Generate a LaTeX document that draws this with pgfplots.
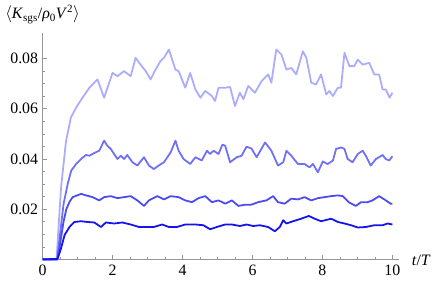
\documentclass[border=0pt]{standalone}
\usepackage{fontspec}
\setmainfont{Liberation Serif}
\usepackage{pgfplots}
\pgfplotsset{compat=1.18}

\definecolor{cA}{RGB}{20,20,235}
\definecolor{cB}{RGB}{75,75,240}
\definecolor{cC}{RGB}{112,112,246}
\definecolor{cD}{RGB}{172,172,255}
\definecolor{axgray}{RGB}{150,150,150}

\begin{document}
\fontsize{16}{19}\selectfont
\begin{tikzpicture}
\begin{axis}[
  scale only axis,
  width=359bp, height=228bp,
  xmin=0, xmax=10.2, ymin=0, ymax=0.0903,
  axis lines*=left,
  axis line style={axgray, line width=0.8pt},
  xtick={0,2,...,10}, ytick={0.02,0.04,0.06,0.08},
  minor x tick num=3, minor y tick num=3,
  extra y ticks={0.005,0.01,0.015}, extra y tick labels={},
  extra y tick style={major tick length=2.5bp, tick style={axgray}},
  tick align=inside,
  major tick length=4bp, minor tick length=2.5bp,
  tick style={axgray, line width=0.6pt},
  xticklabel={\pgfmathprintnumber[assume math mode=true]{\tick}},
  yticklabel={\pgfmathprintnumber[assume math mode=true, fixed, precision=2, fixed zerofill]{\tick}},
  yticklabel style={xshift=1bp},
  ticklabel style={font=\fontsize{16}{19}\selectfont},
  scaled y ticks=false,
  clip=false,
  every axis plot/.append style={line width=1.8pt, line join=round},
]
\addplot[cD] coordinates {
(0,0) (0.40,0) (0.53,0.0288) (0.67,0.047) (0.81,0.0565) (0.96,0.0605) (1.14,0.0644)
(1.34,0.0684) (1.57,0.0717) (1.76,0.0644) (2.00,0.0743) (2.14,0.0730)
(2.33,0.0750) (2.52,0.0730) (2.66,0.0803) (2.80,0.0776) (2.95,0.0750)
(3.09,0.0717) (3.23,0.0756) (3.37,0.0790) (3.47,0.0803) (3.61,0.0836)
(3.80,0.0756) (3.89,0.0750) (4.08,0.0684) (4.22,0.0743) (4.37,0.0677)
(4.51,0.0644) (4.65,0.0671) (4.84,0.0651) (4.93,0.0631) (5.03,0.0684)
(5.22,0.0684) (5.36,0.0687) (5.50,0.0611) (5.64,0.0664) (5.74,0.0638)
(5.88,0.0691) (6.07,0.0664) (6.26,0.0710) (6.45,0.0737) (6.54,0.0704)
(6.68,0.0836) (6.83,0.0816) (6.97,0.0756) (7.11,0.0763) (7.25,0.0737)
(7.44,0.0829) (7.54,0.0803) (7.68,0.0704) (7.82,0.0697) (7.96,0.0737)
(8.11,0.0657) (8.20,0.0671) (8.30,0.0651) (8.44,0.0684) (8.53,0.0684)
(8.63,0.0823) (8.77,0.0770) (8.91,0.0770) (9.01,0.0796) (9.15,0.0776)
(9.34,0.0783) (9.48,0.0737) (9.62,0.0737) (9.72,0.0677) (9.81,0.0677)
(9.92,0.0644) (10.0,0.0664)
};
\addplot[cC] coordinates {
(0,0) (0.42,0) (0.50,0.010) (0.60,0.022) (0.72,0.0301) (0.82,0.0354) (0.96,0.0380)
(1.10,0.0400) (1.24,0.0416) (1.34,0.0413) (1.48,0.0424) (1.62,0.0433)
(1.76,0.0473) (1.85,0.0453) (1.95,0.0440) (2.14,0.0400) (2.24,0.0413)
(2.33,0.0400) (2.42,0.0416) (2.57,0.0387) (2.71,0.0374) (2.90,0.0407)
(3.04,0.0374) (3.18,0.0360) (3.32,0.0374) (3.47,0.0387) (3.66,0.0426)
(3.80,0.0473) (3.89,0.0433) (4.03,0.0400) (4.22,0.0380) (4.37,0.0407)
(4.55,0.0394) (4.70,0.0433) (4.79,0.0420) (4.89,0.0433) (5.03,0.0420)
(5.14,0.0457) (5.22,0.0453) (5.36,0.0387) (5.55,0.0407) (5.69,0.0413)
(5.83,0.0449) (5.97,0.0442) (6.12,0.0407) (6.36,0.0466) (6.54,0.0433)
(6.73,0.0374) (6.88,0.0387) (6.97,0.0433) (7.11,0.0413) (7.30,0.0380)
(7.49,0.0380) (7.63,0.0367) (7.73,0.0380) (7.87,0.0347) (8.01,0.0390)
(8.15,0.0380) (8.30,0.0394) (8.39,0.0440) (8.53,0.0446) (8.63,0.0440)
(8.72,0.0400) (8.86,0.0387) (9.01,0.0420) (9.15,0.0433) (9.24,0.0413)
(9.38,0.0374) (9.53,0.0400) (9.72,0.0416) (9.81,0.0400) (9.91,0.0394)
(10.0,0.0411)
};
\addplot[cB] coordinates {
(0,0) (0.42,0) (0.50,0.006) (0.60,0.015) (0.68,0.020) (0.77,0.0229) (0.86,0.0248)
(1.10,0.0261) (1.24,0.0255) (1.43,0.0248) (1.62,0.0235) (1.76,0.0248)
(1.95,0.0252) (2.14,0.0244) (2.33,0.0248) (2.52,0.0252) (2.71,0.0235)
(2.90,0.0213) (3.04,0.0235) (3.28,0.0252) (3.47,0.0239) (3.66,0.0252)
(3.89,0.0248) (4.08,0.0235) (4.27,0.0228) (4.46,0.0244) (4.65,0.0252)
(4.84,0.0228) (5.03,0.0235) (5.22,0.0222) (5.41,0.0235) (5.60,0.0213)
(5.79,0.0218) (5.97,0.0218) (6.16,0.0228) (6.40,0.0235) (6.59,0.0252)
(6.73,0.0228) (6.92,0.0222) (7.11,0.0242) (7.30,0.0239) (7.49,0.0248)
(7.68,0.0235) (7.87,0.0244) (8.06,0.0248) (8.25,0.0252) (8.44,0.0255)
(8.58,0.0252) (8.77,0.0226) (8.96,0.0213) (9.10,0.0228) (9.29,0.0228)
(9.43,0.0235) (9.62,0.0252) (9.77,0.0239) (9.95,0.0222) (10.0,0.0222)
};
\addplot[cA] coordinates {
(0,0) (0.43,0.0002) (0.52,0.004) (0.63,0.0097) (0.77,0.0129) (0.91,0.0149)
(1.10,0.0152) (1.29,0.0149) (1.48,0.0147) (1.67,0.0129) (1.81,0.0147)
(2.05,0.0143) (2.28,0.0147) (2.52,0.0139) (2.76,0.0129) (2.95,0.0129)
(3.18,0.0129) (3.42,0.0139) (3.61,0.0129) (3.84,0.0129) (4.08,0.0139)
(4.37,0.0139) (4.60,0.0136) (4.79,0.0120) (4.98,0.0129) (5.22,0.0139)
(5.41,0.0139) (5.64,0.0133) (5.83,0.0139) (6.02,0.0133) (6.21,0.0136)
(6.45,0.0129) (6.64,0.0112) (6.78,0.0129) (6.88,0.0156) (6.97,0.0143)
(7.16,0.0152) (7.39,0.0162) (7.61,0.0173) (7.78,0.0162) (7.96,0.0152)
(8.25,0.0162) (8.44,0.0149) (8.63,0.0143) (8.82,0.0136) (9.01,0.0127)
(9.24,0.0129) (9.48,0.0136) (9.72,0.0136) (9.86,0.0143) (10.0,0.0139)
};
\node[anchor=base, font=\fontsize{16}{19}\selectfont] at (axis description cs:0,1) [yshift=14bp]
  {$\langle$\textit{K}\textsubscript{sgs}/\textit{ρ}\textsubscript{0}\textit{V}\textsuperscript{2}$\rangle$};
\node[anchor=base west, font=\fontsize{16}{19}\selectfont] at (axis description cs:1,0) [xshift=7bp, yshift=-6bp]
  {\textit{t}/\textit{T}};
\end{axis}
\end{tikzpicture}
\end{document}
